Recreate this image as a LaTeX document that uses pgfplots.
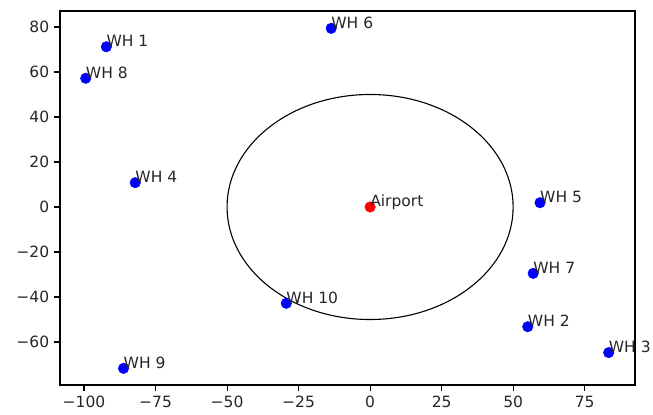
\documentclass[border=0pt]{standalone}
\usepackage{pgfplots}
\pgfplotsset{compat=1.18}
\usepackage{fontspec}
\setmainfont{DejaVu Sans}
\newcommand{\fs}{\fontsize{15.5bp}{18bp}\selectfont}
\begin{document}
\fs
\begin{tikzpicture}
\begin{axis}[
  scale only axis, width=575bp, height=374bp,
  xmin=-108.4, xmax=92.6, ymin=-79.1, ymax=87.1,
  axis line style={line width=1.1bp, black},
  tick align=outside, tick pos=left,
  major tick length=5.5bp,
  tick style={black, line width=1.1bp},
  xtick={-100,-75,-50,-25,0,25,50,75},
  xticklabels={−100,−75,−50,−25,0,25,50,75},
  ytick={-60,-40,-20,0,20,40,60,80},
  yticklabels={−60,−40,−20,0,20,40,60,80},
  tick label style={font=\fs, text=black!85},
  clip=false,
]
\draw[black, line width=1.1bp] (axis cs:0,0) ellipse [x radius=50, y radius=50];
\addplot[only marks, mark=*, mark size=5.3bp, color=blue,
  nodes near coords, point meta=explicit symbolic,
  nodes near coords style={anchor=base west, inner sep=0pt, text=black!85, font=\fs}]
  table[col sep=comma, x=x, y=y, meta=label] {
x,y,label
-92.2,71.2,WH 1
55.1,-53.2,WH 2
83.4,-64.7,WH 3
-82.1,10.8,WH 4
59.4,1.9,WH 5
-13.6,79.4,WH 6
57.0,-29.5,WH 7
-99.4,57.2,WH 8
-86.2,-71.7,WH 9
-29.3,-42.8,WH 10
};
\addplot[only marks, mark=*, mark size=5.3bp, color=red,
  nodes near coords, point meta=explicit symbolic,
  nodes near coords style={anchor=base west, inner sep=0pt, text=black!85, font=\fs}]
  table[col sep=comma, x=x, y=y, meta=label] {
x,y,label
0,0,Airport
};
\end{axis}
\path ([xshift=-60bp,yshift=-30bp]current axis.south west) rectangle ([xshift=18bp,yshift=11bp]current axis.north east);
\end{tikzpicture}
\end{document}
